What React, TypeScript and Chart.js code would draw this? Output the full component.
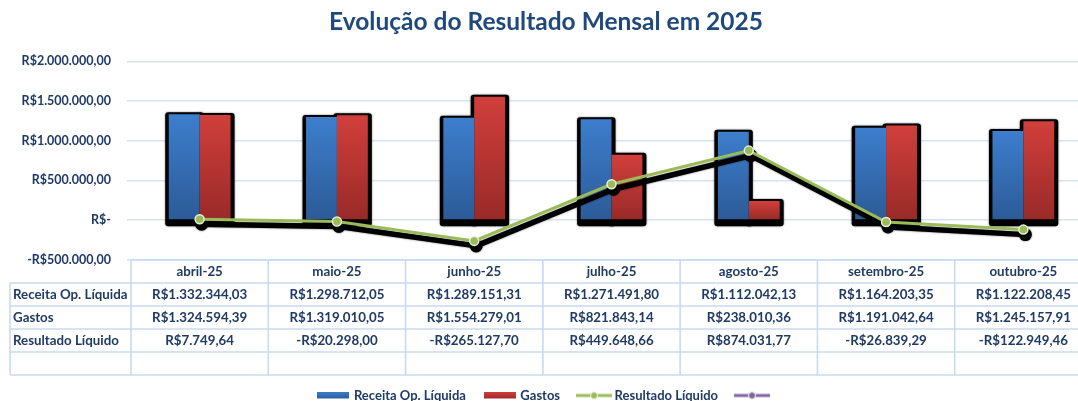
import React, { useEffect, useRef } from 'react';
import { Chart, registerables } from 'chart.js';

Chart.register(...registerables);

const title = 'Evolução do Resultado Mensal em 2025';
const categories = ['abril-25', 'maio-25', 'junho-25', 'julho-25', 'agosto-25', 'setembro-25', 'outubro-25'];
const receita = [1332344.03, 1298712.05, 1289151.31, 1271491.8, 1112042.13, 1164203.35, 1122208.45];
const gastos = [1324594.39, 1319010.05, 1554279.01, 821843.14, 238010.36, 1191042.64, 1245157.91];
const resultado = [7749.64, -20298.0, -265127.7, 449648.66, 874031.77, -26839.29, -122949.46];
const emptySeries: (number | null)[] = [null, null, null, null, null, null, null];
const seriesNames = ['Receita Op. Líquida', 'Gastos', 'Resultado Líquido', ''];
const yTicks = [-500000, 0, 500000, 1000000, 1500000, 2000000];

const FONT = 'Lato, "Open Sans", sans-serif';
const NAVY = '#1F3A64';
const TITLE_COLOR = '#1F497D';
const GRID = '#D5E2F3';
const TABLE_LINE = '#C9DAEF';
const BLUE_TOP = '#3D7ECD';
const BLUE_BOT = '#2C5B97';
const RED_TOP = '#D13F3B';
const RED_BOT = '#992A28';
const GREEN = '#9BBB59';
const PURPLE = '#8064A2';

function brl(v: number): string {
  if (v === 0) return 'R$-';
  const neg = v < 0;
  const [i, d] = Math.abs(v).toFixed(2).split('.');
  const ip = i.replace(/\B(?=(\d{3})+(?!\d))/g, '.');
  return (neg ? '-' : '') + 'R$' + ip + ',' + d;
}

function barGradient(top: string, bot: string) {
  return (c: any) => {
    const chart = c.chart;
    const y = chart.scales && chart.scales.y;
    if (!y || c.type !== 'data' || !c.parsed) return top;
    const yt = y.getPixelForValue(c.parsed.y);
    const yb = y.getPixelForValue(0);
    if (!isFinite(yt) || !isFinite(yb) || yt === yb) return top;
    const g = chart.ctx.createLinearGradient(0, yt, 0, yb);
    g.addColorStop(0, top);
    g.addColorStop(1, bot);
    return g;
  };
}

function barSwatch(top: string, bot: string) {
  const c = document.createElement('canvas');
  c.width = 32;
  c.height = 8;
  const x = c.getContext('2d')!;
  const g = x.createLinearGradient(0, 0, 0, 8);
  g.addColorStop(0, top);
  g.addColorStop(1, bot);
  x.fillStyle = g;
  x.fillRect(0, 0, 32, 7);
  return c;
}

function lineSwatch(color: string) {
  const c = document.createElement('canvas');
  c.width = 36;
  c.height = 10;
  const x = c.getContext('2d')!;
  x.strokeStyle = color;
  x.lineWidth = 3;
  x.beginPath();
  x.moveTo(0, 5);
  x.lineTo(36, 5);
  x.stroke();
  x.beginPath();
  x.arc(18, 5, 3.5, 0, Math.PI * 2);
  x.fillStyle = color;
  x.fill();
  x.lineWidth = 1;
  x.strokeStyle = '#EEF3E4';
  x.stroke();
  return c;
}

function roundRect(ctx: CanvasRenderingContext2D, x: number, y: number, w: number, h: number, r: number) {
  ctx.beginPath();
  ctx.moveTo(x + r, y);
  ctx.lineTo(x + w - r, y);
  ctx.quadraticCurveTo(x + w, y, x + w, y + r);
  ctx.lineTo(x + w, y + h - r);
  ctx.quadraticCurveTo(x + w, y + h, x + w - r, y + h);
  ctx.lineTo(x + r, y + h);
  ctx.quadraticCurveTo(x, y + h, x, y + h - r);
  ctx.lineTo(x, y + r);
  ctx.quadraticCurveTo(x, y, x + r, y);
  ctx.closePath();
}

const barShadowPlugin = {
  id: 'barShadow',
  beforeDatasetsDraw(chart: any) {
    const ctx = chart.ctx;
    ctx.save();
    ctx.fillStyle = '#000';
    ctx.shadowColor = 'rgba(0,0,0,0.6)';
    ctx.shadowBlur = 2;
    [0, 1].forEach((di) => {
      const meta = chart.getDatasetMeta(di);
      meta.data.forEach((el: any) => {
        const p = el.getProps(['x', 'y', 'base', 'width'], true);
        const left = p.x - p.width / 2 - 3.5;
        const right = p.x + p.width / 2 + 4;
        const top = Math.min(p.y, p.base) - 2;
        const bottom = Math.max(p.y, p.base) + 7;
        roundRect(ctx, left, top, right - left, bottom - top, 3);
        ctx.fill();
      });
    });
    ctx.restore();
  },
};

const lineShadowPlugin = {
  id: 'lineShadow',
  beforeDatasetDraw(chart: any, args: any) {
    if (args.index !== 2) return;
    const ctx = chart.ctx;
    const pts = args.meta.data.map((el: any) => el.getProps(['x', 'y'], true));
    const dx = 2;
    const dy = 5;
    ctx.save();
    ctx.strokeStyle = '#000';
    ctx.fillStyle = '#000';
    ctx.shadowColor = 'rgba(0,0,0,0.6)';
    ctx.shadowBlur = 2;
    ctx.lineWidth = 5.5;
    ctx.lineJoin = 'round';
    ctx.lineCap = 'round';
    ctx.beginPath();
    pts.forEach((p: any, i: number) => {
      if (i === 0) ctx.moveTo(p.x + dx, p.y + dy);
      else ctx.lineTo(p.x + dx, p.y + dy);
    });
    ctx.stroke();
    pts.forEach((p: any) => {
      ctx.beginPath();
      ctx.arc(p.x + dx, p.y + dy, 6.5, 0, Math.PI * 2);
      ctx.fill();
    });
    ctx.restore();
  },
};

const tablePlugin = {
  id: 'dataTable',
  afterDraw(chart: any) {
    const { ctx, chartArea: ca, scales } = chart;
    const x = scales.x;
    const n = categories.length;
    const colW = (ca.right - ca.left) / n;
    const top = ca.bottom + 0.5;
    const rowH = 23;
    const rowLabels = [seriesNames[0], seriesNames[1], seriesNames[2], ''];
    const rowData = [receita, gastos, resultado, null];
    const headLeft = 10;
    const bottom = top + rowH * (rowLabels.length + 1);
    ctx.save();
    ctx.strokeStyle = TABLE_LINE;
    ctx.lineWidth = 1.6;
    ctx.beginPath();
    ctx.moveTo(ca.left, top);
    ctx.lineTo(ca.right, top);
    for (let r = 1; r <= rowLabels.length; r++) {
      const yy = top + r * rowH;
      ctx.moveTo(headLeft, yy);
      ctx.lineTo(ca.right, yy);
    }
    ctx.moveTo(headLeft, bottom);
    ctx.lineTo(ca.right, bottom);
    ctx.moveTo(headLeft, top + rowH);
    ctx.lineTo(headLeft, bottom);
    for (let i = 0; i <= n; i++) {
      const xx = i < n ? x.getPixelForValue(i) - colW / 2 : x.getPixelForValue(n - 1) + colW / 2;
      ctx.moveTo(xx, top);
      ctx.lineTo(xx, bottom);
    }
    ctx.stroke();

    ctx.fillStyle = NAVY;
    ctx.font = 'bold 13.3px ' + FONT;
    ctx.textBaseline = 'middle';
    ctx.textAlign = 'center';
    categories.forEach((c, i) => {
      ctx.fillText(c, x.getPixelForValue(i), top + rowH / 2);
    });
    rowLabels.forEach((lab, r) => {
      const yy = top + rowH * (r + 1) + rowH / 2;
      ctx.textAlign = 'left';
      ctx.fillText(lab, headLeft + 3, yy);
      const d = rowData[r];
      if (d) {
        ctx.textAlign = 'center';
        d.forEach((v, i) => ctx.fillText(brl(v), x.getPixelForValue(i), yy));
      }
    });
    ctx.restore();
  },
};

export default function App() {
  const ref = useRef<HTMLCanvasElement | null>(null);

  useEffect(() => {
    document.body.style.margin = '0';
    document.body.style.background = '#fff';
    const canvas = ref.current!;
    const swatches = [barSwatch(BLUE_TOP, BLUE_BOT), barSwatch(RED_TOP, RED_BOT), lineSwatch(GREEN), lineSwatch(PURPLE)];
    const chart = new Chart(canvas, {
      type: 'bar',
      data: {
        labels: categories,
        datasets: [
          {
            type: 'bar',
            label: seriesNames[0],
            data: receita,
            backgroundColor: barGradient(BLUE_TOP, BLUE_BOT),
            categoryPercentage: 0.45,
            barPercentage: 1,
            order: 2,
          },
          {
            type: 'bar',
            label: seriesNames[1],
            data: gastos,
            backgroundColor: barGradient(RED_TOP, RED_BOT),
            categoryPercentage: 0.45,
            barPercentage: 1,
            order: 2,
          },
          {
            type: 'line',
            label: seriesNames[2],
            data: resultado,
            borderColor: GREEN,
            borderWidth: 3,
            pointRadius: 4.5,
            pointBackgroundColor: GREEN,
            pointBorderColor: '#E8EFD8',
            pointBorderWidth: 1.5,
            tension: 0,
            order: 1,
          },
          {
            type: 'line',
            label: seriesNames[3],
            data: emptySeries,
            borderColor: PURPLE,
            backgroundColor: PURPLE,
            borderWidth: 3,
            order: 0,
          },
        ],
      } as any,
      options: {
        responsive: false,
        animation: false,
        devicePixelRatio: 1,
        layout: { padding: { left: 0, right: 8, top: 0, bottom: 0 } },
        plugins: {
          title: {
            display: true,
            text: title,
            color: TITLE_COLOR,
            font: { family: FONT, size: 24.5, weight: 'bold' },
            padding: { top: 7, bottom: 25 },
          },
          legend: {
            position: 'bottom',
            labels: {
              usePointStyle: true,
              pointStyleWidth: 28,
              padding: 20,
              color: NAVY,
              font: { family: FONT, size: 13, weight: 'bold' },
              generateLabels: () =>
                seriesNames.map((name, i) => ({
                  text: name,
                  pointStyle: swatches[i],
                  fillStyle: 'transparent',
                  strokeStyle: 'transparent',
                  lineWidth: 0,
                  hidden: false,
                  datasetIndex: i,
                  fontColor: NAVY,
                })) as any,
            },
          },
          tooltip: { enabled: false },
        },
        scales: {
          x: {
            grid: { display: false },
            border: { display: false },
            ticks: { display: false },
            afterFit: (s: any) => {
              s.height = 109.5;
            },
          },
          y: {
            min: -500000,
            max: 2000000,
            afterBuildTicks: (s: any) => {
              s.ticks = yTicks.map((v) => ({ value: v }));
            },
            ticks: {
              callback: (v: any) => brl(Number(v)),
              color: NAVY,
              font: { family: FONT, size: 12.5, weight: 'bold' },
              padding: 16,
            },
            grid: { color: GRID, lineWidth: 1.5, tickLength: 4, drawTicks: true },
            border: { display: false },
            afterFit: (s: any) => {
              s.width = 131;
            },
          },
        },
      } as any,
      plugins: [barShadowPlugin, lineShadowPlugin, tablePlugin],
    });
    return () => chart.destroy();
  }, []);

  return (
    <div style={{ width: 1078, height: 401, overflow: 'hidden', position: 'relative', background: '#fff' }}>
      <canvas ref={ref} width={1100} height={412} style={{ display: 'block' }} />
    </div>
  );
}
